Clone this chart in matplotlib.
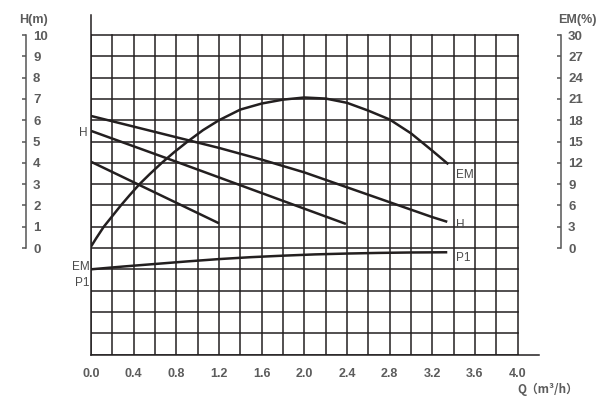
import numpy as np
import matplotlib
matplotlib.use('Agg')
import matplotlib.pyplot as plt

plt.rcParams['font.family'] = ['Liberation Sans', 'DejaVu Sans']

# pump curves (Q in m3/h)
q_h1 = [0.0, 0.4, 0.8, 1.2, 1.6, 2.0, 2.4, 2.8, 3.2, 3.34]
h1 = [6.2, 5.7, 5.2, 4.7, 4.15, 3.55, 2.85, 2.15, 1.45, 1.23]
q_h2 = [0.0, 0.8, 1.6, 2.39]
h2 = [5.5, 4.05, 2.58, 1.13]
q_h3 = [0.0, 1.2]
h3 = [4.05, 1.16]

q_em = [0.0, 0.05, 0.12, 0.2, 0.28, 0.36, 0.455, 0.55, 0.664, 0.78, 0.906, 1.05, 1.2,
        1.4, 1.6, 1.8, 2.0, 2.2, 2.4, 2.6, 2.8, 3.0, 3.2, 3.35]
em = [0.2, 1.4, 3.0, 4.5, 6.0, 7.4, 9.0, 10.4, 12.0, 13.5, 15.0, 16.6, 18.0,
      19.5, 20.35, 20.9, 21.2, 21.05, 20.45, 19.35, 18.1, 16.15, 13.7, 11.8]

# P1 has no scale on the chart, kept in H-axis units
q_p1 = [0.0, 0.3, 0.6, 0.9, 1.2, 1.5, 1.8, 2.1, 2.4, 2.7, 3.0, 3.34]
p1 = [-1.0, -0.87, -0.75, -0.63, -0.52, -0.43, -0.36, -0.3, -0.26, -0.23, -0.21, -0.2]

x_ticks = [0.0, 0.4, 0.8, 1.2, 1.6, 2.0, 2.4, 2.8, 3.2, 3.6, 4.0]
h_ticks = list(range(0, 11))
em_ticks = list(range(0, 31, 3))

ink = '#231f20'
txt = '#4a4a4a'
num = '#5c5c5c'

fig = plt.figure(figsize=(6, 4.05), dpi=100)
bottom = 50.5 / 405
height = (354.5 - 15) / 405
ax = fig.add_axes([91 / 600, bottom, 448 / 600, height])
ymin, ymax = -5, 10.94
ax.set_xlim(0, 4.2)
ax.set_ylim(ymin, ymax)

# grid
for x in np.arange(0, 4.01, 0.2):
    ax.plot([x, x], [ymin, 10], color=ink, lw=1.1, zorder=1)
for y in range(-5, 11):
    ax.plot([0, 4.0], [y, y], color=ink, lw=1.1, zorder=1)

for sp in ['top', 'right']:
    ax.spines[sp].set_visible(False)
ax.spines['left'].set_color(ink)
ax.spines['bottom'].set_color(ink)
ax.spines['left'].set_linewidth(1.1)
ax.spines['bottom'].set_linewidth(1.1)

ax.set_xticks(x_ticks)
ax.set_xticklabels([f'{v:.1f}' for v in x_ticks], fontweight='bold')
ax.set_yticks([])
ax.tick_params(axis='x', length=0, pad=10, labelsize=9, labelcolor=num)

# curves
cl = dict(color=ink, lw=1.8, zorder=3, solid_capstyle='butt', solid_joinstyle='round')
ax.plot(q_h1, h1, **cl)
ax.plot(q_h2, h2, **cl)
ax.plot(q_h3, h3, **cl)
ax.plot(q_p1, p1, **cl)

ax_em = ax.twinx()
ax_em.set_ylim(ymin * 3, ymax * 3)
ax_em.axis('off')
ax_em.plot(q_em, em, **cl)

# curve labels
lab = dict(fontsize=8.5, color=txt)
ax.text(-0.03, 5.4, 'H', ha='right', va='center', **lab)
ax.text(-0.01, -0.9, 'EM', ha='right', va='center', **lab)
ax.text(-0.01, -1.65, 'P1', ha='right', va='center', **lab)
ax.text(3.42, 3.45, 'EM', ha='left', va='center', **lab)
ax.text(3.42, 1.1, 'H', ha='left', va='center', **lab)
ax.text(3.42, -0.45, 'P1', ha='left', va='center', **lab)

fig.text(548 / 600, 1 - 389 / 405, 'Q（m³/h）', ha='center', va='center', fontsize=8.5,
         fontweight='bold', color=num, family=['Noto Sans CJK SC', 'DejaVu Sans'])


def side_scale(xpx, lo, hi, ticks):
    s = fig.add_axes([xpx / 600, bottom, 0.0001, height])
    s.set_ylim(lo, hi)
    s.set_xticks([])
    for sp in ['top', 'right', 'bottom']:
        s.spines[sp].set_visible(False)
    s.spines['left'].set_bounds(ticks[0], ticks[-1])
    s.spines['left'].set_color('#555555')
    s.spines['left'].set_linewidth(1.1)
    s.set_yticks(ticks)
    s.set_yticklabels([str(t) for t in ticks], fontweight='bold')
    s.tick_params(axis='y', left=True, right=False, labelleft=False, labelright=True,
                  direction='out', length=3, width=1.1, color='#555555',
                  labelsize=9.5, labelcolor=num, pad=2)
    s.patch.set_visible(False)
    return s


side_scale(26, ymin, ymax, h_ticks)
side_scale(561, ymin * 3, ymax * 3, em_ticks)

fig.text(34 / 600, 1 - 20 / 405, 'H(m)', ha='center', va='center', fontsize=9,
         fontweight='bold', color=num)
fig.text(577 / 600, 1 - 20 / 405, 'EM(%)', ha='center', va='center', fontsize=9,
         fontweight='bold', color=num)

fig.savefig('out.png', dpi=100)
